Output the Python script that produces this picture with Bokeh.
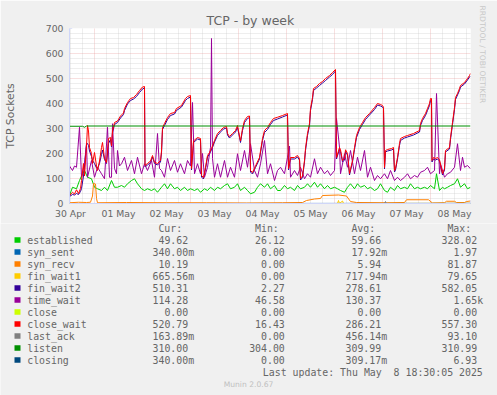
import math
from bokeh.plotting import figure
from bokeh.layouts import column
from bokeh.models import Range1d, FixedTicker, Title, PolyAnnotation
from bokeh.core.properties import value
from bokeh.embed import file_html
from bokeh.resources import INLINE

# ---------------- data (time in hours since 30 Apr 00:00) ----------------
cw_t = [11.5, 13, 14, 15, 16, 17, 17.5, 18.5, 19, 20, 20.5, 21, 21.5, 22.5, 23, 24, 25, 25.5, 26.5, 27.5,
        28, 29, 30, 31, 32, 32.5, 33, 34, 35.5, 37, 38.5, 39, 40.5, 42, 43.5, 45, 46.5, 48, 49, 49.25,
        50.5, 52, 53, 54, 55.5, 57, 57.5, 58, 59, 60.5, 62, 64, 65, 67.5, 69.5, 70.5, 72, 72.5, 73.5, 75.5,
        77, 77.5, 78.5, 79.5, 80.5, 81.5, 83, 84, 85.5, 87, 88.5, 90, 90.5, 91.5, 93, 94.5, 95.5, 96.5, 97, 98,
        99, 100.5, 101.5, 102, 103, 104.5, 106.5, 108, 109, 110.5, 112, 113.5, 115.5, 118, 120.5, 121, 122, 124, 125.5, 126.5,
        127, 128, 129, 129.5, 130.5, 131.5, 132, 133, 133.5, 135, 136.5, 138, 139.5, 141.5, 143, 144.5, 145, 146.5, 147, 148,
        149, 149.5, 150.5, 151.5, 153, 154, 155, 156.5, 158, 159.5, 161.5, 164, 165.5, 167, 168, 168.5, 169, 169.5, 170.5, 172.5,
        173.5, 174, 174.5, 175.5, 176.5, 177, 179, 180.5, 183.5, 186.5, 187, 188, 189.5, 190.5, 191.5, 192, 192.5, 192.75, 193.5, 194.5,
        195.5, 196.5, 198, 199, 199.5, 201.5, 202, 203, 204, 204.5, 205.5, 206.5, 207, 209, 210.5, 211.5, 212]
close_wait = [32, 45, 38, 55, 40, 60, 92, 160, 110, 230, 312, 290, 224, 200, 160, 204, 150, 132, 170, 224,
              244, 180, 164, 260, 264, 230, 290, 324, 330, 350, 362, 380, 404, 420, 424, 436, 452, 466, 468, 152,
              160, 170, 192, 165, 160, 172, 210, 304, 320, 344, 360, 364, 380, 392, 420, 428, 432, 140, 250, 264,
              260, 112, 104, 145, 192, 204, 230, 252, 280, 292, 304, 308, 280, 268, 280, 292, 312, 270, 250, 300,
              332, 348, 350, 132, 124, 150, 184, 260, 292, 304, 324, 340, 345, 352, 360, 140, 184, 184, 192, 180,
              100, 110, 172, 220, 280, 320, 380, 424, 460, 468, 480, 488, 500, 512, 524, 536, 184, 224, 215, 172,
              180, 215, 200, 120, 172, 224, 272, 304, 324, 344, 360, 384, 400, 396, 392, 385, 144, 212, 216, 220,
              224, 132, 140, 184, 240, 260, 268, 272, 280, 292, 320, 340, 360, 380, 400, 420, 420, 172, 184, 180,
              184, 175, 120, 140, 212, 224, 264, 324, 384, 424, 440, 460, 472, 484, 500, 512, 520]
fin_wait2 = [28, 36, 34, 40, 36, 48, 60, 110, 150, 236, 240, 232, 210, 188, 172, 160, 142, 140, 160, 196,
             214, 176, 160, 240, 256, 226, 282, 316, 324, 342, 356, 372, 398, 412, 418, 428, 444, 458, 462, 146,
             154, 164, 186, 160, 154, 166, 202, 296, 312, 336, 352, 358, 372, 386, 412, 420, 426, 134, 244, 258,
             254, 106, 98, 138, 186, 198, 224, 246, 272, 286, 298, 302, 274, 262, 274, 286, 304, 264, 244, 292,
             324, 340, 344, 126, 118, 144, 178, 252, 284, 296, 316, 332, 338, 346, 354, 134, 178, 178, 186, 174,
             94, 104, 166, 212, 272, 312, 372, 416, 452, 462, 472, 482, 492, 506, 516, 530, 178, 218, 208, 166,
             174, 208, 194, 114, 166, 216, 264, 296, 316, 336, 354, 376, 394, 390, 386, 380, 138, 206, 210, 214,
             218, 126, 134, 178, 232, 252, 262, 266, 274, 286, 312, 332, 352, 372, 392, 412, 414, 166, 178, 174,
             178, 170, 114, 134, 206, 218, 256, 316, 376, 416, 434, 452, 466, 478, 494, 506, 510]

tw_t = [11.5, 13, 14, 15, 16.5, 17.5, 19, 20, 20.5, 22.5, 24, 25.5, 27.5, 29, 30.5, 31.5, 32.5, 33, 34, 35,
        35.5, 36.5, 37.5, 39, 40.5, 42.5, 44, 45.5, 47.5, 49, 50.5, 52.5, 54, 55.5, 56.5, 57.5, 59, 60.5, 62, 64,
        65.5, 67, 69, 70.5, 72, 73, 74, 75.5, 77, 78, 79, 80.5, 82, 82.5, 83, 84, 85.5, 87, 89, 90.5,
        92, 94, 95.5, 97, 99, 100.5, 102, 104, 105.5, 107, 109, 110.5, 112, 114, 115.5, 117, 119, 120.5, 121.5, 122,
        124, 125.5, 127, 129, 130.5, 132, 134, 135.5, 137, 139, 140.5, 142, 144, 145, 146.5, 147, 149, 150.5, 152, 154,
        155.5, 157, 159, 160.5, 162, 164, 165.5, 167, 169, 170.5, 172, 174, 175.5, 177, 179, 180.5, 182, 184, 185.5, 187,
        189, 190.5, 192, 194, 195, 196.5, 197, 199, 200.5, 202, 204, 205.5, 207, 208, 209, 210.5, 212]
time_wait = [150, 132, 150, 145, 305, 105, 160, 240, 105, 172, 105, 145, 119, 99, 305, 105, 105, 319, 140, 119,
             212, 150, 159, 185, 132, 172, 119, 185, 119, 159, 132, 172, 105, 280, 140, 132, 105, 180, 132, 172,
             125, 159, 119, 172, 150, 404, 119, 159, 119, 200, 105, 145, 225, 660, 180, 105, 159, 105, 172, 105,
             145, 105, 199, 132, 212, 145, 239, 132, 105, 159, 252, 119, 159, 92, 132, 145, 119, 185, 230, 105,
             132, 112, 145, 99, 119, 105, 179, 119, 145, 119, 132, 112, 132, 340, 225, 119, 199, 145, 212, 119,
             185, 132, 212, 105, 145, 92, 112, 99, 119, 99, 132, 92, 105, 92, 105, 119, 99, 112, 105, 125,
             132, 145, 119, 132, 440, 119, 159, 105, 119, 125, 145, 239, 132, 185, 145, 152, 139]

est_t = [11.5, 13, 15, 16.5, 18, 19, 20.5, 22.5, 24, 25.5, 27.5, 29, 30.5, 32.5, 34, 35.5, 37.5, 39, 40.5, 42.5,
         44, 45.5, 47.5, 49, 50.5, 52.5, 54, 55.5, 57.5, 59, 60.5, 62, 64, 65.5, 67, 69, 70.5, 72, 74, 75.5,
         77, 79, 80.5, 82, 84, 85.5, 87, 89, 90.5, 92, 94, 95.5, 97, 99, 100.5, 102, 104, 105.5, 107, 109,
         110.5, 112, 114, 115.5, 117, 119, 120.5, 122, 124, 125.5, 127, 129, 130.5, 132, 134, 135.5, 137, 139, 140.5, 142,
         144, 145.5, 147, 149, 150.5, 152, 154, 155.5, 157, 159, 160.5, 162, 164, 165.5, 167, 169, 170.5, 172, 174, 175.5,
         177, 179, 180.5, 182, 184, 185.5, 187, 189, 190.5, 192, 194, 195, 196.5, 198, 199, 200.5, 202, 204, 205.5, 207,
         209, 210.5, 212]
established = [32, 65, 59, 92, 119, 132, 105, 99, 65, 59, 52, 65, 52, 92, 65, 65, 72, 65, 79, 92,
               99, 79, 59, 52, 59, 52, 59, 45, 65, 79, 59, 79, 59, 65, 52, 65, 52, 59, 52, 59,
               45, 59, 52, 65, 52, 65, 59, 72, 79, 59, 65, 79, 52, 65, 52, 39, 45, 65, 79, 65,
               79, 59, 72, 52, 52, 72, 59, 65, 52, 72, 59, 65, 79, 65, 85, 65, 79, 59, 72, 59,
               65, 59, 52, 45, 65, 79, 59, 79, 65, 72, 59, 65, 52, 59, 79, 52, 45, 65, 52, 72,
               59, 65, 59, 79, 59, 65, 59, 65, 59, 72, 59, 119, 52, 65, 59, 65, 72, 79, 99, 65,
               79, 59, 65]

sr_t = [11.5, 16, 20, 22, 23, 23.5, 24.5, 25, 25.5, 40, 60, 80, 100, 118, 128, 130, 134, 137, 138, 146,
        150, 152, 155, 170, 179, 180, 191, 193, 199, 200, 204, 205, 209, 210, 212]
syn_recv = [3, 5, 4, 5, 30, 80, 78, 20, 3, 4, 3, 3, 2, 3, 4, 12, 18, 20, 32, 34,
            30, 8, 4, 3, 4, 15, 15, 2, 3, 9, 9, 4, 4, 8, 10]

fw1_t = [11.5, 145.5, 146, 146.5, 148, 148.5, 212]
fin_wait1 = [0, 0, 12, 0, 10, 0, 0.7]

la_t = [11.5, 169, 169.5, 170, 212]
last_ack = [0, 0, 8, 0, 0.2]

zero_t = [11.5, 212]
syn_sent = [0, 0.3]
close = [0, 0]
closing = [0, 0.3]

listen_t = [11.5, 18, 19, 20, 212]
listen = [309, 309, 305, 310, 310]

# x axis: labels at noon, major grid at midnight
label_hours = [12, 36, 60, 84, 108, 132, 156, 180, 204]
day_labels = ["30 Apr", "01 May", "02 May", "03 May", "04 May", "05 May", "06 May", "07 May", "08 May"]
y_ticks = [0, 100, 200, 300, 400, 500, 600, 700]

# legend
names = ["established", "syn_sent", "syn_recv", "fin_wait1", "fin_wait2", "time_wait", "close",
         "close_wait", "last_ack", "listen", "closing"]
colors = ["#00CC00", "#0066B3", "#FF8000", "#FFCC00", "#330099", "#990099", "#CCFF00",
          "#FF0000", "#808080", "#008F00", "#00487D"]
cur_vals = ["49.62", "340.00m", "10.19", "665.56m", "510.31", "114.28", "0.00", "520.79", "163.89m", "310.00", "340.00m"]
min_vals = ["26.12", "0.00", "0.00", "0.00", "2.27", "46.58", "0.00", "16.43", "0.00", "304.00", "0.00"]
avg_vals = ["59.66", "17.92m", "5.94", "717.94m", "278.61", "130.37", "0.00", "286.21", "456.14m", "309.99", "309.17m"]
max_vals = ["328.02", "1.97", "81.87", "79.65", "582.05", "1.65k", "0.00", "557.30", "93.10", "310.99", "6.93"]
headers = ["Cur:", "Min:", "Avg:", "Max:"]
last_update = "Last update: Thu May\u00a0 8 18:30:05 2025"
version = "Munin 2.0.67"

series = [
    (est_t, established), (zero_t, syn_sent), (sr_t, syn_recv), (fw1_t, fin_wait1),
    (cw_t, fin_wait2), (tw_t, time_wait), (zero_t, close), (cw_t, close_wait),
    (la_t, last_ack), (listen_t, listen), (zero_t, closing),
]

TXT = "#666666"
BG = "#F0F0F0"

# ---------------- chart figure ----------------
p = figure(frame_width=401, frame_height=175, x_range=Range1d(11.5, 212), y_range=Range1d(0, 700),
           output_backend="svg", toolbar_location=None,
           min_border_left=67, min_border_right=29, min_border_top=28, min_border_bottom=20,
           background_fill_color="#FFFFFF", border_fill_color=BG, outline_line_color=None)
p.frame_align = False

p.title.text = "TCP - by week"
p.title.text_font = "DejaVu Sans"
p.title.text_font_size = "12.5px"
p.title.text_font_style = "normal"
p.title.text_color = TXT
p.title.align = "left"
p.title.offset = 137
p.title.standoff = 2

p.add_layout(Title(text="RRDTOOL / TOBI OETIKER", text_font="DejaVu Sans", text_font_size="7.6px",
                   text_font_style="normal", text_color="#C8C8C8", align="left", offset=-23,
                   standoff=15), "right")

for (t, v), c in zip(series, colors):
    p.line(t, v, line_color=c, line_width=1)

xa = p.xaxis[0]
xa.ticker = FixedTicker(ticks=label_hours)
xa.major_label_overrides = {h: s for h, s in zip(label_hours, day_labels)}
ya = p.yaxis[0]
ya.ticker = FixedTicker(ticks=y_ticks)
for ax in (xa, ya):
    ax.axis_line_color = "#CFD6F8"
    ax.major_tick_line_color = None
    ax.minor_tick_line_color = None
    ax.major_tick_out = 0
    ax.major_tick_in = 0
    ax.major_label_text_font = "DejaVu Sans"
    ax.major_label_text_font_size = "9.3px"
    ax.major_label_text_color = TXT
xa.major_label_standoff = 4
ya.major_label_standoff = 6
ya.axis_label = "TCP Sockets"
ya.axis_label_text_font = "DejaVu Sans"
ya.axis_label_text_font_size = "10.8px"
ya.axis_label_text_font_style = "normal"
ya.axis_label_text_color = TXT
ya.axis_label_standoff = 26

p.xgrid.ticker = FixedTicker(ticks=[24, 48, 72, 96, 120, 144, 168, 192],
                             minor_ticks=[h for h in range(12, 212, 6) if h % 24])
p.ygrid.ticker = FixedTicker(ticks=[100, 200, 300, 400, 500, 600, 700],
                             minor_ticks=[v for v in range(20, 700, 20) if v % 100])
for g in (p.xgrid, p.ygrid):
    g.grid_line_color = "#E89090"
    g.grid_line_alpha = 0.55
    g.grid_line_dash = "1 1"
    g.minor_grid_line_color = "#C4C4C4"
    g.minor_grid_line_alpha = 0.6
    g.minor_grid_line_dash = "1 1"

# axis arrows
p.add_layout(PolyAnnotation(xs=[-3.5, 2.5, -0.5], ys=[175, 175, 181], xs_units="screen", ys_units="screen",
                            fill_color="#CFD6F8", fill_alpha=1, line_color="#CFD6F8", line_alpha=1))
p.add_layout(PolyAnnotation(xs=[401, 401, 407], ys=[3, -3, 0], xs_units="screen", ys_units="screen",
                            fill_color="#CFD6F8", fill_alpha=1, line_color="#CFD6F8", line_alpha=1))

# ---------------- legend figure (page pixel coordinates) ----------------
TOP = 223
lg = figure(width=497, height=395 - TOP, x_range=Range1d(0, 497), y_range=Range1d(395, TOP),
            output_backend="svg", toolbar_location=None, x_axis_type=None, y_axis_type=None,
            min_border=0, background_fill_color=BG, border_fill_color=BG, outline_line_color=None)
lg.frame_align = False
lg.grid.visible = False

MONO = value("DejaVu Sans Mono")
FS = value("9.9px")
col_end = [187.7, 284.3, 380.7, 476.7]
row_y = [239.5 + 12 * i for i in range(len(names))]

lg.text(x=[xe - 6 for xe in col_end], y=[228] * 4, text=headers, text_font=MONO, text_font_size=FS,
        text_color=TXT, text_align="right", text_baseline="middle")
lg.rect(x=[17] * len(names), y=row_y, width=6, height=5.5, fill_color=colors, line_color=None)
lg.text(x=[26.7] * len(names), y=row_y, text=names, text_font=MONO, text_font_size=FS,
        text_color=TXT, text_align="left", text_baseline="middle")
for vals, xe in zip([cur_vals, min_vals, avg_vals, max_vals], col_end):
    nums = [s[:-1] if s[-1] in "mk" else s for s in vals]
    sufs = [s[-1] if s[-1] in "mk" else "" for s in vals]
    lg.text(x=[xe] * len(nums), y=row_y, text=nums, text_font=MONO, text_font_size=FS,
            text_color=TXT, text_align="right", text_baseline="middle")
    sx = [xe for s in sufs if s]
    sy = [yy for yy, s in zip(row_y, sufs) if s]
    st = [s for s in sufs if s]
    lg.text(x=sx, y=sy, text=st, text_font=MONO, text_font_size=FS,
            text_color=TXT, text_align="left", text_baseline="middle")
lg.text(x=[482.3], y=[371.7], text=[last_update], text_font=MONO, text_font_size=FS,
        text_color=TXT, text_align="right", text_baseline="middle")
lg.text(x=[248], y=[384], text=[version], text_font=value("DejaVu Sans"), text_font_size=value("7.6px"),
        text_color="#C0C0C0", text_align="center", text_baseline="middle")

layout = column(p, lg, spacing=0)
open("out.html", "w").write(file_html(layout, INLINE))
